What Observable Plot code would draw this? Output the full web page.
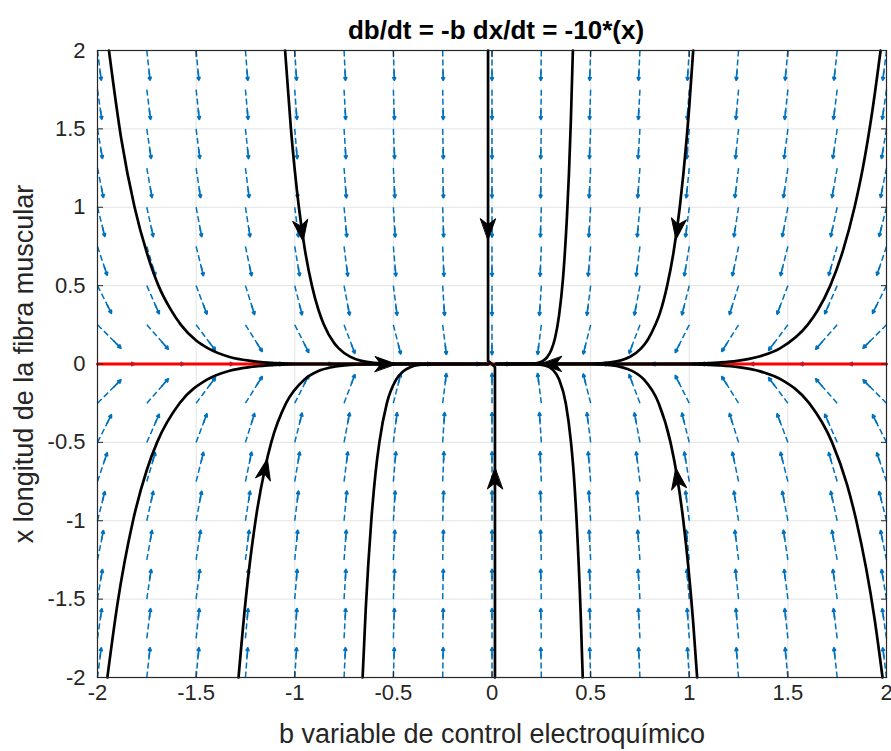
<!DOCTYPE html>
<html>
<head>
<meta charset="utf-8">
<script src="https://cdn.jsdelivr.net/npm/d3@7"></script>
<script src="https://cdn.jsdelivr.net/npm/@observablehq/plot@0.6"></script>
<style>
  html, body { margin: 0; padding: 0; background: #fff; }
  #chart { width: 891px; height: 751px; }
</style>
</head>
<body>
<div id="chart"></div>
<script>
// ---- text ----
const titleText = "db/dt = -b dx/dt = -10*(x)";
const xLabelText = "b variable de control electroquímico";
const yLabelText = "x longitud de la fibra muscular";

// ---- axes ----
const tickValues = [-2, -1.5, -1, -0.5, 0, 0.5, 1, 1.5, 2];

// ---- quiver grid (field from the title: db/dt = -b, dx/dt = -10x) ----
const gridB = [-2, -1.75, -1.5, -1.25, -1, -0.75, -0.5, -0.25, 0, 0.25, 0.5, 0.75, 1, 1.25, 1.5, 1.75, 2];
const gridX = [-2, -1.75, -1.5, -1.25, -1, -0.75, -0.5, -0.25, 0, 0.25, 0.5, 0.75, 1, 1.25, 1.5, 1.75, 2];
const coefB = -1;
const coefX = -10;
const quiverLen = 0.19;

// ---- red line (x = 0) ----
const redLine = [[-2, 0], [2, 0]];

// ---- trajectories, [b, x] points ----
const trajA = [[-1.942, 2], [-1.88, 1.44], [-1.812, 1], [-1.75, 0.71], [-1.691, 0.5], [-1.63, 0.35], [-1.577, 0.25], [-1.5, 0.15], [-1.439, 0.1], [-1.33, 0.045], [-1.225, 0.02], [-1.1, 0.006], [-0.95, 0.001], [-0.02, 0]];
const trajB = [[-1.049, 2], [-1.02, 1.51], [-0.979, 1], [-0.95, 0.74], [-0.913, 0.5], [-0.88, 0.346], [-0.852, 0.25], [-0.8, 0.133], [-0.777, 0.1], [-0.72, 0.047], [-0.662, 0.02], [-0.6, 0.0075], [-0.5, 0.0012], [-0.02, 0]];
const trajD = [[0.02, 0], [0.2, 0.0015], [0.23, 0.006], [0.26, 0.021], [0.28, 0.044], [0.30, 0.088], [0.32, 0.167], [0.34, 0.31], [0.36, 0.546], [0.38, 0.94], [0.39, 1.21], [0.40, 1.56], [0.41, 2]];
const trajE = [[0.02, 0], [0.5, 0.0016], [0.6, 0.0099], [0.644, 0.02], [0.70, 0.046], [0.756, 0.1], [0.79, 0.155], [0.828, 0.25], [0.85, 0.32], [0.888, 0.5], [0.92, 0.71], [0.952, 1], [0.97, 1.21], [1.0, 1.64], [1.02, 2]];
const trajF = [[0.02, 0], [1.0, 0.0023], [1.15, 0.0093], [1.243, 0.02], [1.35, 0.046], [1.46, 0.1], [1.60, 0.25], [1.65, 0.34], [1.715, 0.5], [1.78, 0.726], [1.838, 1], [1.88, 1.25], [1.93, 1.63], [1.97, 2]];
const trajG = [[-1.95, -2], [-1.90, -1.54], [-1.82, -1], [-1.75, -0.676], [-1.698, -0.5], [-1.584, -0.25], [-1.445, -0.1], [-1.33, -0.043], [-1.23, -0.02], [-1.1, -0.0065], [-0.95, -0.001], [-0.02, 0]];
const trajH = [[-1.285, -2], [-1.25, -1.52], [-1.199, -1], [-1.15, -0.66], [-1.119, -0.5], [-1.044, -0.25], [-0.952, -0.1], [-0.88, -0.045], [-0.811, -0.02], [-0.72, -0.006], [-0.6, -0.001], [-0.02, 0]];
const trajI = [[-0.656, -2], [-0.64, -1.56], [-0.612, -1], [-0.59, -0.69], [-0.571, -0.5], [-0.533, -0.25], [-0.486, -0.1], [-0.45, -0.046], [-0.414, -0.02], [-0.37, -0.0065], [-0.3, -0.001], [-0.02, 0]];
const trajK = [[0.02, 0], [0.2, -0.001], [0.26, -0.0067], [0.29, -0.02], [0.31, -0.039], [0.341, -0.1], [0.374, -0.25], [0.4005, -0.5], [0.415, -0.71], [0.429, -1], [0.45, -1.61], [0.46, -2]];
const trajL = [[0.02, 0], [0.5, -0.001], [0.6, -0.008], [0.656, -0.02], [0.71, -0.044], [0.771, -0.1], [0.845, -0.25], [0.905, -0.5], [0.94, -0.73], [0.97, -1], [1.02, -1.65], [1.04, -2]];
const trajM = [[0.02, 0], [1.0, -0.002], [1.15, -0.0088], [1.249, -0.02], [1.36, -0.047], [1.467, -0.1], [1.608, -0.25], [1.724, -0.5], [1.80, -0.77], [1.847, -1], [1.94, -1.63], [1.98, -2]];
const trajV1 = [[-0.02, 2], [-0.02, 0.02], [0, 0]];
const trajV2 = [[0.015, -2], [0.015, -0.02], [0, 0]];

// ---- trajectory arrowheads ----
const headB = [-0.965, -0.02, 0.94, -0.54, 0.30, -1.15, 0.015, 0.94];
const headX = [0.85, 0.86, 0.86, 0, 0, -0.67, -0.73, -0.73];
const headAngle = [172, 180, 188, 90, 270, 12, 0, 351];

// ---- build tables ----
const quiver = [];
for (const b of gridB) for (const x of gridX) {
  const u = coefB * b, v = coefX * x;
  const n = Math.hypot(u, v);
  if (n === 0) continue;
  const ub = quiverLen * u / n, vx = quiverLen * v / n;
  quiver.push({b, x, b2: b + ub, x2: x + vx, bh: b + 0.7 * ub, xh: x + 0.7 * vx});
}
const smoothTraj = [trajA, trajB, trajD, trajE, trajF, trajG, trajH, trajI, trajK, trajL, trajM];
const straightTraj = [trajV1, trajV2];
const heads = headB.map((b, i) => ({b, x: headX[i], a: headAngle[i]}));

const notched = {
  draw(ctx, l) {
    const w = l * 0.36;
    ctx.moveTo(0, -l);
    ctx.lineTo(-w, 0);
    ctx.lineTo(0, -l * 0.28);
    ctx.lineTo(w, 0);
    ctx.closePath();
  }
};

const blue = "#0072BD";
const axisColor = "#262626";
const fmt = d => String(d);

const marks = [
  Plot.gridX(tickValues, {stroke: "#e3e3e3", strokeOpacity: 1, strokeWidth: 1}),
  Plot.gridY(tickValues, {stroke: "#e3e3e3", strokeOpacity: 1, strokeWidth: 1}),
  Plot.link(quiver, {x1: "b", y1: "x", x2: "b2", y2: "x2", stroke: blue, strokeWidth: 1.5, strokeDasharray: "6,3"}),
  Plot.arrow(quiver, {x1: "bh", y1: "xh", x2: "b2", y2: "x2", stroke: blue, strokeWidth: 1.7, headLength: 8, headAngle: 55, insetEnd: 0, insetStart: 0}),
  Plot.line(redLine, {x: d => d[0], y: d => d[1], stroke: "#ff0000", strokeWidth: 3}),
  ...smoothTraj.map(t => Plot.line(t, {x: d => d[0], y: d => d[1], stroke: "black", strokeWidth: 2.7, curve: "monotone-x"})),
  ...straightTraj.map(t => Plot.line(t, {x: d => d[0], y: d => d[1], stroke: "black", strokeWidth: 2.7})),
  Plot.vector(heads, {x: "b", y: "x", rotate: "a", length: 21, anchor: "middle", shape: notched, fill: "black", stroke: "black", strokeWidth: 1}),
  Plot.frame({stroke: axisColor, strokeWidth: 1.2}),
  Plot.axisX(tickValues, {anchor: "bottom", tickSize: -6, tickPadding: 13, tickFormat: fmt, fontSize: 22, color: axisColor, label: null}),
  Plot.axisX(tickValues, {anchor: "top", tickSize: -6, tickFormat: () => "", color: axisColor, label: null}),
  Plot.axisY(tickValues, {anchor: "left", tickSize: -6, tickPadding: 18, tickFormat: fmt, fontSize: 22, color: axisColor, label: null}),
  Plot.axisY(tickValues, {anchor: "right", tickSize: -6, tickFormat: () => "", color: axisColor, label: null}),
  Plot.text([titleText], {text: d => d, frameAnchor: "top", lineAnchor: "middle", textAnchor: "middle", dx: 4, dy: -20, fontSize: 26, fontWeight: "bold", fill: "black"}),
  Plot.text([xLabelText], {text: d => d, frameAnchor: "bottom", lineAnchor: "middle", textAnchor: "middle", dy: 57, fontSize: 27, fill: axisColor}),
  Plot.text([yLabelText], {text: d => d, frameAnchor: "left", lineAnchor: "middle", textAnchor: "middle", dx: -73, rotate: -90, fontSize: 27, fill: axisColor})
];

const chart = Plot.plot({
  width: 891,
  height: 751,
  marginTop: 50,
  marginBottom: 74,
  marginLeft: 97,
  marginRight: 5,
  x: {domain: [-2, 2]},
  y: {domain: [-2, 2]},
  style: {fontFamily: "'Liberation Sans', Arial, sans-serif", background: "white", overflow: "visible"},
  marks
});
document.getElementById("chart").appendChild(chart);
</script>
</body>
</html>
